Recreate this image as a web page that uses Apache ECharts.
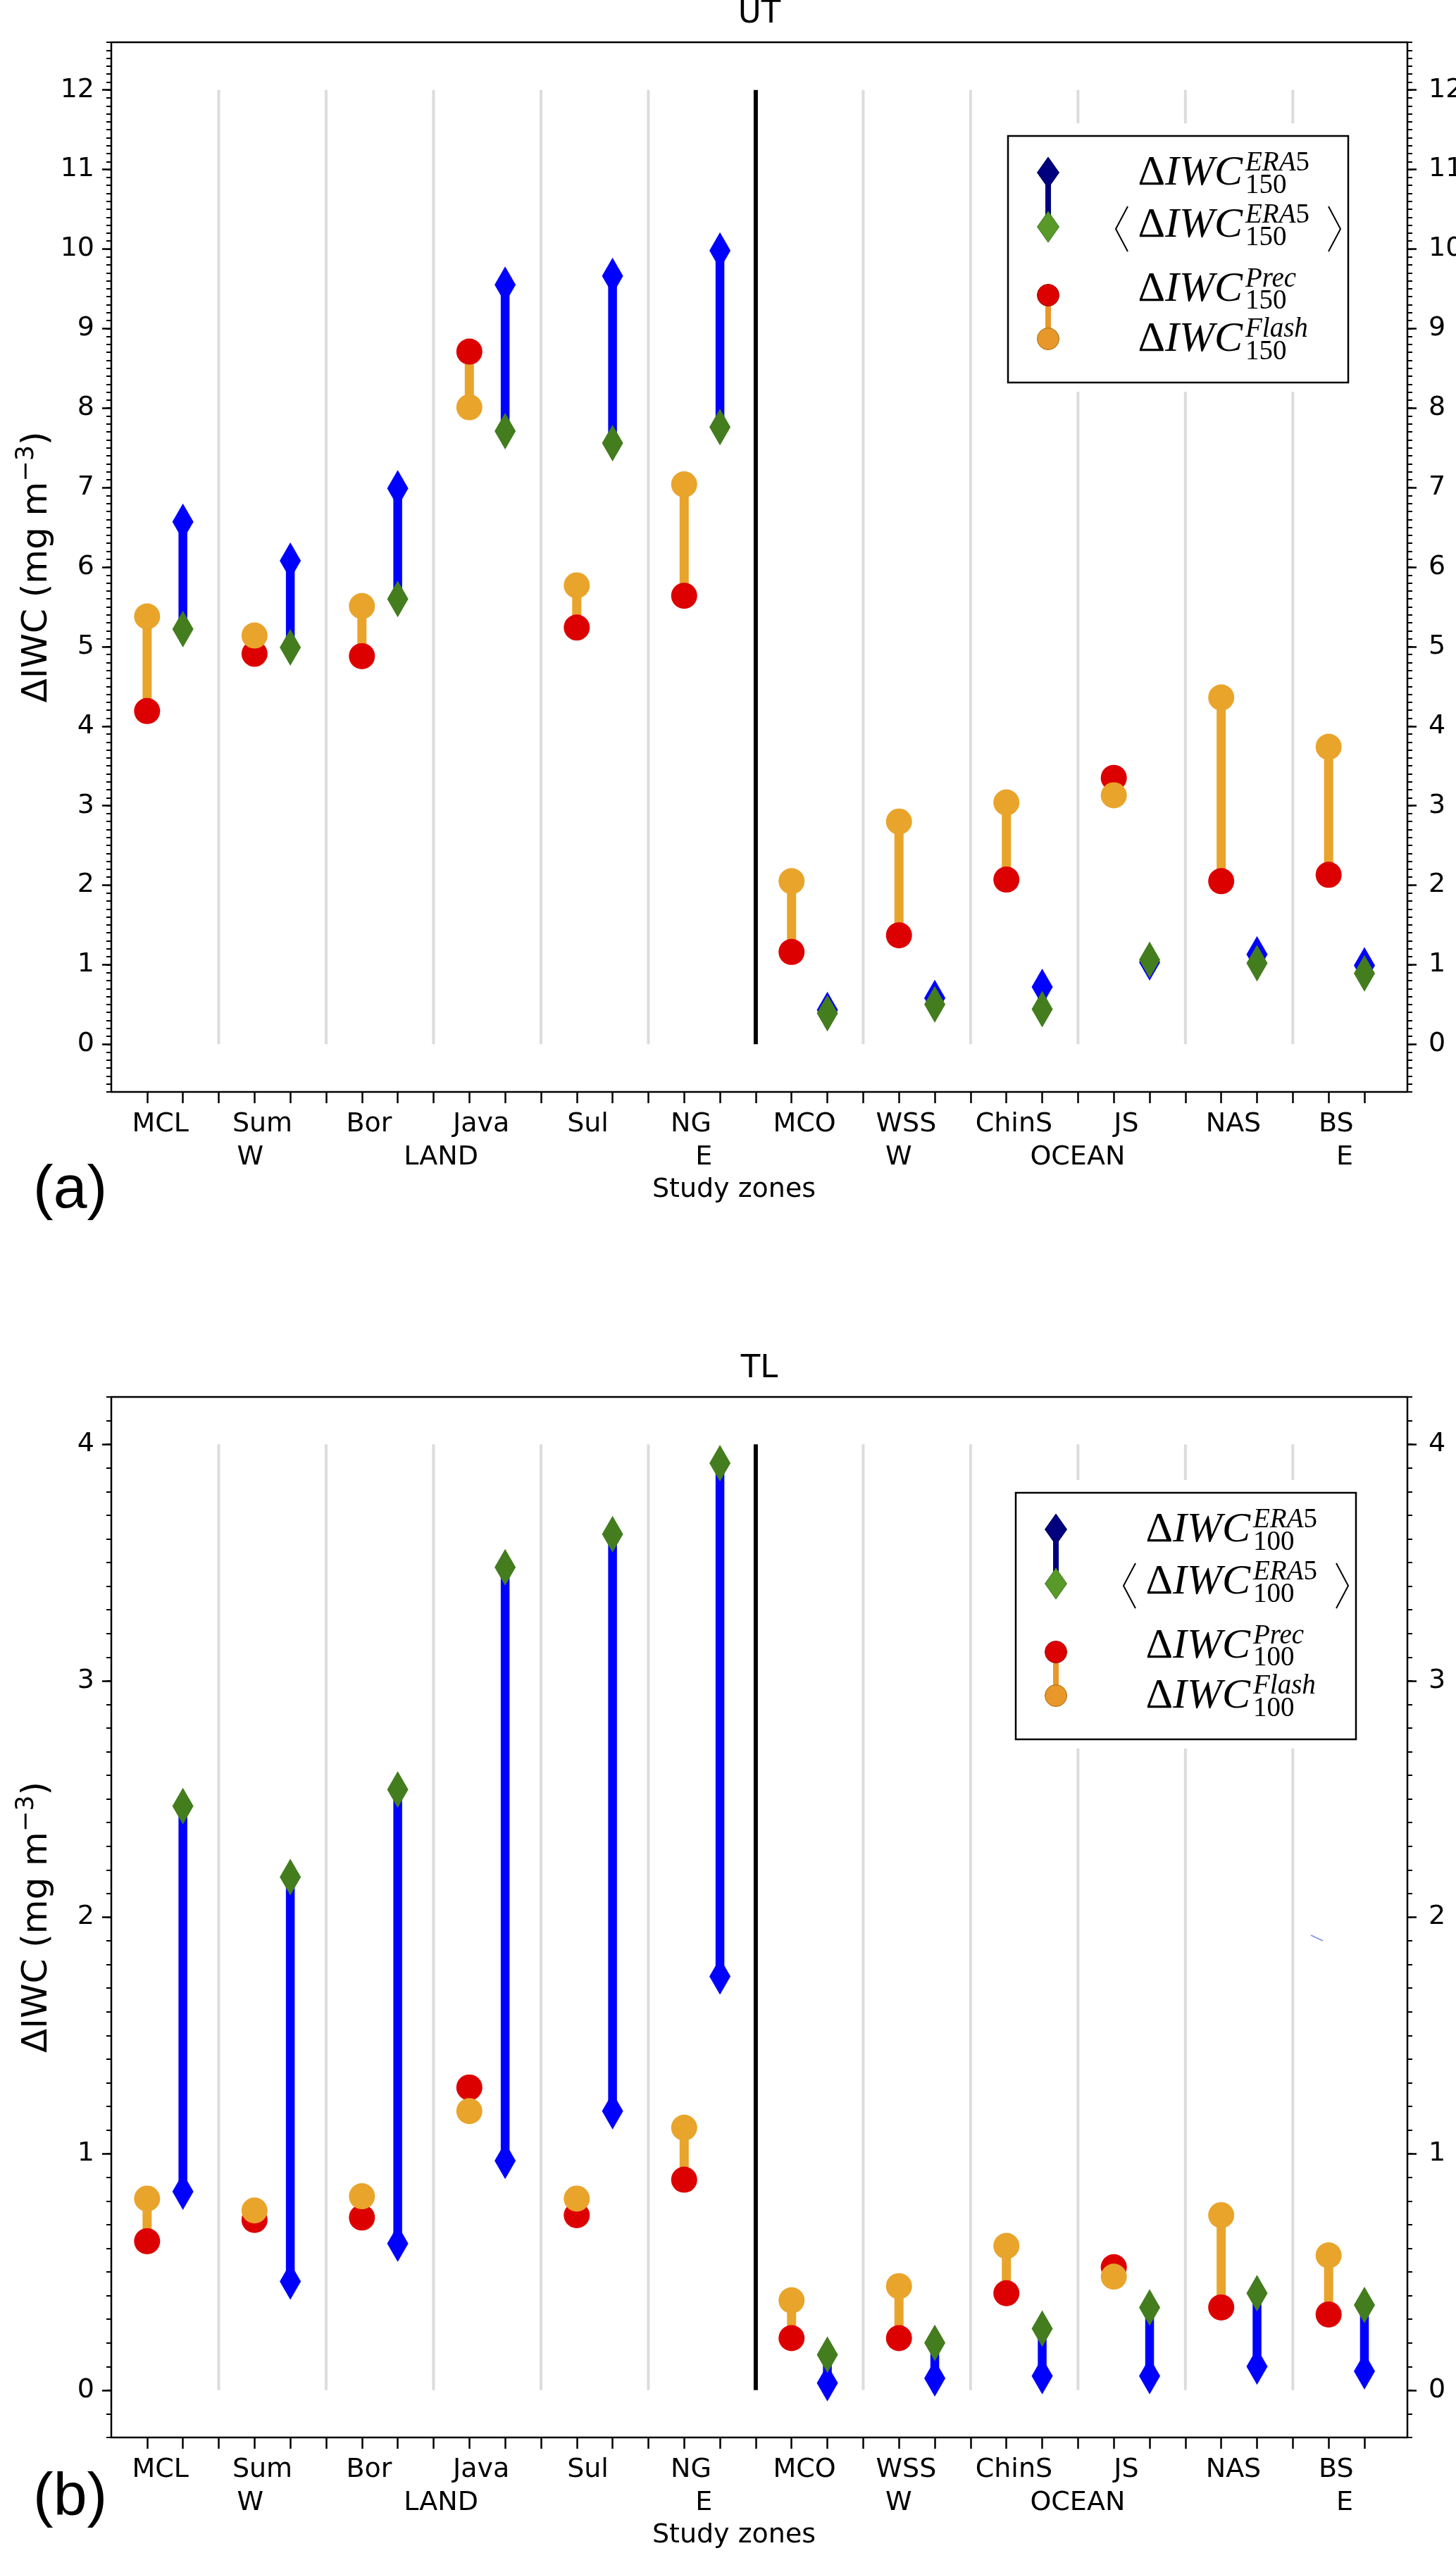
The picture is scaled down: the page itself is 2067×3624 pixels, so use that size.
<!DOCTYPE html>
<html><head><meta charset="utf-8">
<script src="https://cdn.jsdelivr.net/npm/echarts@6/dist/echarts.min.js"></script>
<style>html,body{margin:0;padding:0;background:#fff}#c{width:2067px;height:3624px}</style>
</head><body><div id="c"></div>
<script>
// ---------- data ----------
const zones = ['MCL','Sum','Bor','Java','Sul','NG','MCO','WSS','ChinS','JS','NAS','BS'];
const subLabels = ['W','LAND','E','W','OCEAN','E'];
const utPrec    = [4.19,4.91,4.88,8.71,5.24,5.64,1.16,1.37,2.07,3.35,2.05,2.13];
const utFlash   = [5.38,5.14,5.51,8.01,5.77,7.04,2.05,2.80,3.04,3.13,4.36,3.74];
const utEra     = [6.57,6.08,6.99,9.55,9.66,9.98,0.43,0.58,0.72,1.03,1.13,0.99];
const utEraMean = [5.22,4.99,5.60,7.71,7.56,7.76,0.39,0.50,0.44,1.06,1.02,0.89];
const tlPrec    = [0.63,0.72,0.73,1.28,0.74,0.89,0.22,0.22,0.41,0.52,0.35,0.32];
const tlFlash   = [0.81,0.76,0.82,1.18,0.81,1.11,0.38,0.44,0.61,0.48,0.74,0.57];
const tlEra     = [0.84,0.46,0.62,0.97,1.18,1.75,0.03,0.05,0.06,0.06,0.10,0.08];
const tlEraMean = [2.47,2.17,2.54,3.48,3.62,3.92,0.15,0.20,0.26,0.35,0.41,0.36];
const yTicksUT = [0,1,2,3,4,5,6,7,8,9,10,11,12];
const yTicksTL = [0,1,2,3,4];

// ---------- layout (label placement on the x value axis) ----------
const nameX = [1.37,4.22,7.2,10.33,13.31,16.19,19.36,22.2,25.21,28.35,31.34,34.21];
const subX  = [3.88,9.21,16.55,21.99,26.99,34.45];
const landCount = 6;

const FONT = 'DejaVu Sans';
const SERIF = 'Liberation Serif';
const GL = 158, GR = 69;
const X_MAX = 36.2;

const xTicks = [];
zones.forEach((z,i)=>{ xTicks.push(3*i+1, 3*i+2); if (i < zones.length-1) xTicks.push(3*i+3); });

function minorVals(a,b){ const r=[]; for(let k=Math.round(a*10);k<=Math.round(b*10);k++) r.push(k/10); return r; }
function nearest(arr, labels, v){ let bi=0,bd=1e9; arr.forEach((p,i)=>{const d=Math.abs(p-v); if(d<bd){bd=d;bi=i;}}); return labels[bi]; }

const panels = [
  {top:60, height:1490, yMin:-0.6, yMax:12.6, ticks:yTicksUT, title:'UT', tag:'(a)', tagY:1690, lev:'150',
   prec:utPrec, flash:utFlash, era:utEra, eraMean:utEraMean, leg:[1431,193]},
  {top:1983, height:1477, yMin:-0.2, yMax:4.2, ticks:yTicksTL, title:'TL', tag:'(b)', tagY:3546, lev:'100',
   prec:tlPrec, flash:tlFlash, era:tlEra, eraMean:tlEraMean, leg:[1442,2119]}
];

const grid=[], xAxis=[], yAxis=[], series=[], graphic=[];
const tickStyle = {color:'#000', width:2.5};
const labStyle = {fontFamily:FONT, fontSize:38, color:'#000'};

function segRender(color, width){
  return function(params, api){
    const p1 = api.coord([api.value(0), api.value(1)]);
    const p2 = api.coord([api.value(0), api.value(2)]);
    return {type:'line', shape:{x1:p1[0],y1:p1[1],x2:p2[0],y2:p2[1]}, style:{stroke:color, lineWidth:width}};
  };
}

panels.forEach((P, g)=>{
  grid.push({left:GL, right:GR, top:P.top, height:P.height, show:true, borderColor:'#000', borderWidth:2.5,
             backgroundColor:'transparent', outerBoundsMode:'none'});
  const xi = xAxis.length;
  xAxis.push({type:'value', gridIndex:g, min:0, max:X_MAX, position:'bottom',
    axisLine:{show:false, onZero:false}, splitLine:{show:false},
    axisTick:{show:true, customValues:xTicks, length:16, lineStyle:tickStyle},
    axisLabel:Object.assign({customValues:nameX, margin:27, formatter:v=>nearest(nameX, zones, v)}, labStyle)});
  xAxis.push({type:'value', gridIndex:g, min:0, max:X_MAX, position:'bottom',
    axisLine:{show:false, onZero:false}, splitLine:{show:false}, axisTick:{show:false},
    axisLabel:Object.assign({customValues:subX, margin:74, formatter:v=>nearest(subX, subLabels, v)}, labStyle)});
  const yi = yAxis.length;
  const minors = minorVals(P.yMin, P.yMax);
  ['left','right'].forEach(pos=>{
    yAxis.push({type:'value', gridIndex:g, min:P.yMin, max:P.yMax, position:pos,
      axisLine:{show:false, onZero:false}, splitLine:{show:false},
      axisTick:{show:true, customValues:P.ticks, length:13, lineStyle:tickStyle},
      axisLabel:Object.assign({customValues:P.ticks, margin:pos==='left'?24:30}, labStyle)});
    yAxis.push({type:'value', gridIndex:g, min:P.yMin, max:P.yMax, position:pos,
      axisLine:{show:false, onZero:false}, splitLine:{show:false},
      axisTick:{show:true, customValues:minors, length:7, lineStyle:{color:'#000', width:2}},
      axisLabel:{show:false}});
  });
  const lineTop = P.ticks[P.ticks.length-1];
  const sepGray = [], sepBlack = [];
  for (let i=0;i<zones.length-1;i++){
    const x = 3*(i+1);
    (i === landCount-1 ? sepBlack : sepGray).push([x, 0, lineTop]);
  }
  const common = {xAxisIndex:xi, yAxisIndex:yi, animation:false};
  series.push(Object.assign({type:'custom', z:1, renderItem:segRender('#dcdcdc',4), data:sepGray, encode:{x:0,y:[1,2]}}, common));
  series.push(Object.assign({type:'custom', z:1, renderItem:segRender('#000',6), data:sepBlack, encode:{x:0,y:[1,2]}}, common));
  series.push(Object.assign({type:'custom', z:2, renderItem:segRender('#e9a42b',13),
    data:zones.map((z,i)=>[3*i+1, P.prec[i], P.flash[i]]), encode:{x:0,y:[1,2]}}, common));
  series.push(Object.assign({type:'custom', z:2, renderItem:segRender('#0000ff',12.5),
    data:zones.map((z,i)=>[3*i+2, P.era[i], P.eraMean[i]]), encode:{x:0,y:[1,2]}}, common));
  series.push(Object.assign({type:'scatter', z:3, symbol:'circle', symbolSize:37, itemStyle:{color:'#dd0000', opacity:1},
    data:zones.map((z,i)=>[3*i+1, P.prec[i]])}, common));
  series.push(Object.assign({type:'scatter', z:4, symbol:'circle', symbolSize:37, itemStyle:{color:'#e9a42b', opacity:1},
    data:zones.map((z,i)=>[3*i+1, P.flash[i]])}, common));
  series.push(Object.assign({type:'scatter', z:3, symbol:'diamond', symbolSize:[30,52], itemStyle:{color:'#0000ff', opacity:1},
    data:zones.map((z,i)=>[3*i+2, P.era[i]])}, common));
  series.push(Object.assign({type:'scatter', z:4, symbol:'diamond', symbolSize:[30,52], itemStyle:{color:'#437d1e', opacity:1},
    data:zones.map((z,i)=>[3*i+2, P.eraMean[i]])}, common));

  const bottom = P.top + P.height;
  graphic.push({type:'text', x:(GL + 2067-GR)/2, y:P.top-40, z:60,
    style:{text:P.title, fontFamily:FONT, fontSize:45, fill:'#000', align:'center', verticalAlign:'middle'}});
  graphic.push({type:'text', x:53, y:P.top + P.height/2, rotation:Math.PI/2, z:60,
    style:{text:'{n|ΔIWC (mg m}{s|−3}{n|)}', align:'center', verticalAlign:'middle',
      rich:{n:{fontFamily:FONT, fontSize:50, lineHeight:66, fill:'#000'},
            s:{fontFamily:FONT, fontSize:35, lineHeight:34, verticalAlign:'top', fill:'#000'}}}});
  graphic.push({type:'text', x:1042, y:bottom+139, z:60,
    style:{text:'Study zones', fontFamily:FONT, fontSize:38, fill:'#000', align:'center', verticalAlign:'middle'}});
  graphic.push({type:'text', x:47, y:P.tagY, z:60,
    style:{text:P.tag, fontFamily:'Liberation Sans', fontSize:86, fill:'#000', align:'left', verticalAlign:'middle'}});
  legendEls(P.leg[0], P.leg[1], P.lev).forEach(e=>graphic.push(e));
});
// small stray stroke present in panel (b) of the original
graphic.push({type:'line', z:5, shape:{x1:1861, y1:2747, x2:1878, y2:2755}, style:{stroke:'#7f8fe0', lineWidth:1.5}});

function diamond(x, y, fill, stroke){
  return {type:'polygon', z:53, shape:{points:[[x,y-22],[x+15.5,y],[x,y+22],[x-15.5,y]]}, style:{fill:fill, stroke:stroke, lineWidth:1}};
}
function mainText(L, T, dy){
  return {type:'text', x:L+333, y:T+dy, z:54, style:{text:'{d|Δ}{i|IWC}', align:'right', verticalAlign:'middle',
    rich:{d:{fontFamily:SERIF, fontSize:60, fill:'#000'}, i:{fontFamily:SERIF, fontSize:60, fontStyle:'italic', fill:'#000'}}}};
}
function smallText(L, T, dy, txt){
  return {type:'text', x:L+337, y:T+dy, z:54, style:{text:txt, align:'left', verticalAlign:'middle',
    rich:{i:{fontFamily:SERIF, fontSize:39, fontStyle:'italic', fill:'#000'}, u:{fontFamily:SERIF, fontSize:39, fill:'#000'}}}};
}
function legendEls(L, T, lev){
  const e = [];
  e.push({type:'rect', z:50, shape:{x:L-15, y:T-18, width:513, height:381}, style:{fill:'#fff'}});
  e.push({type:'rect', z:51, shape:{x:L, y:T, width:483, height:350}, style:{fill:'#fff', stroke:'#000', lineWidth:2.5}});
  const mx = L+57;
  e.push({type:'line', z:52, shape:{x1:mx, y1:T+52, x2:mx, y2:T+129}, style:{stroke:'#00007f', lineWidth:8}});
  e.push(diamond(mx, T+52, '#00007f', '#000050'));
  e.push(diamond(mx, T+129, '#58992a', '#3f7a1e'));
  e.push({type:'line', z:52, shape:{x1:mx, y1:T+226, x2:mx, y2:T+288}, style:{stroke:'#e8982a', lineWidth:8}});
  e.push({type:'circle', z:53, shape:{cx:mx, cy:T+226, r:15.5}, style:{fill:'#dd0000', stroke:'#a00000', lineWidth:1}});
  e.push({type:'circle', z:53, shape:{cx:mx, cy:T+288, r:15.5}, style:{fill:'#e8982a', stroke:'#a86a10', lineWidth:1}});
  e.push(mainText(L, T, 53));
  e.push(smallText(L, T, 39, '{i|ERA}{u|5}'));
  e.push(smallText(L, T, 70.5, '{u|'+lev+'}'));
  e.push(mainText(L, T, 127.5));
  e.push(smallText(L, T, 113, '{i|ERA}{u|5}'));
  e.push(smallText(L, T, 145, '{u|'+lev+'}'));
  e.push({type:'polyline', z:54, shape:{points:[[L+170,T+100],[L+153,T+132],[L+170,T+164]]}, style:{stroke:'#000', lineWidth:2, fill:null}});
  e.push({type:'polyline', z:54, shape:{points:[[L+455,T+100],[L+472,T+132],[L+455,T+164]]}, style:{stroke:'#000', lineWidth:2, fill:null}});
  e.push(mainText(L, T, 218.5));
  e.push(smallText(L, T, 204, '{i|Prec}'));
  e.push(smallText(L, T, 235, '{u|'+lev+'}'));
  e.push(mainText(L, T, 289));
  e.push(smallText(L, T, 275, '{i|Flash}'));
  e.push(smallText(L, T, 307, '{u|'+lev+'}'));
  return e;
}

const chart = echarts.init(document.getElementById('c'), null, {renderer:'canvas', width:2067, height:3624});
chart.setOption({animation:false, backgroundColor:'#fff', grid, xAxis, yAxis, series, graphic});
</script>
</body></html>
